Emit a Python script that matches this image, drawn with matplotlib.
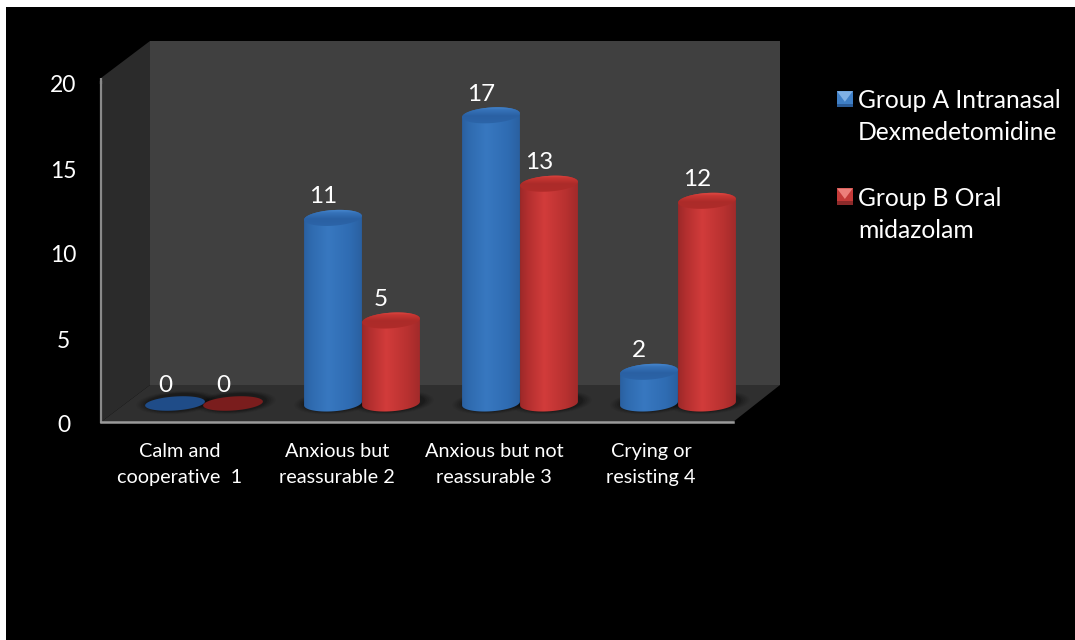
import numpy as np
import matplotlib
matplotlib.use("Agg")
import matplotlib.pyplot as plt
from matplotlib.patches import Polygon, Rectangle, PathPatch, Patch
from matplotlib.path import Path
from matplotlib.transforms import IdentityTransform, Affine2D
from matplotlib.legend_handler import HandlerBase

categories = ["Calm and\ncooperative  1", "Anxious but\nreassurable 2",
              "Anxious but not\nreassurable 3", "Crying or\nresisting 4"]
group_a = [0, 11, 17, 2]
group_b = [0, 5, 13, 12]
name_a = "Group A Intranasal\nDexmedetomidine"
name_b = "Group B Oral\nmidazolam"
y_ticks = [0, 5, 10, 15, 20]

W, H = 1075, 640
plt.rcParams['font.family'] = ['Lato', 'DejaVu Sans']
fig = plt.figure(figsize=(W / 100, H / 100), dpi=100, facecolor='white')
ID = IdentityTransform()

def px(pts):
    return [(x, H - y) for x, y in pts]

# Main drawing axes: whole figure; bars live in the mid-depth plane of the box
Y0, YS, X0, XS = 406.0, 17.1, 204.0, 158.0
ax = fig.add_axes([0, 0, 1, 1])
ax.set_xlim(-X0 / XS, (W - X0) / XS)
ax.set_ylim((Y0 - H) / YS, Y0 / YS)
ax.set_autoscale_on(False)
ax.axis('off')

# Background and 3-D box
ax.add_patch(Polygon(px([(6, 7), (W, 7), (W, H), (6, H)]), transform=ID, fc='black', ec='none', zorder=0))
ax.add_patch(Polygon(px([(150, 41), (780, 41), (780, 385), (150, 385)]), transform=ID, fc='#404040', ec='none', zorder=1))
ax.add_patch(Polygon(px([(101, 78), (150, 41), (150, 385), (101, 422)]), transform=ID, fc='#2b2b2b', ec='none', zorder=1))
ax.add_patch(Polygon(px([(101, 422), (733, 422), (780, 385), (150, 385)]), transform=ID, fc='#2f2f2f', ec='none', zorder=1))
ax.plot(*zip(*px([(101, 78), (101, 84)])), transform=ID, color='#8a8a8a', lw=1.6, zorder=2, solid_capstyle='butt')


def hex_rgb(c):
    return np.array(matplotlib.colors.to_rgb(c))


def ramp(stops, n=120):
    xs = np.linspace(0, 1, n)
    pos = [s[0] for s in stops]
    cols = np.array([hex_rgb(s[1]) for s in stops])
    return np.stack([np.interp(xs, pos, cols[:, i]) for i in range(3)], axis=1)


def ellipse_pts(cx, cy, rx, ry, a0, a1, tilt=4.0, n=60):
    t = np.radians(np.linspace(a0, a1, n))
    ex, ey = rx * np.cos(t), ry * np.sin(t)
    r = np.radians(tilt)
    return np.column_stack([cx + ex * np.cos(r) - ey * np.sin(r), cy + ex * np.sin(r) + ey * np.cos(r)])


def clipped_image(rgb, extent, verts, z):
    path = Path(np.vstack([verts, verts[:1]]))
    patch = PathPatch(path, transform=ID, fc='none', ec='none')
    ax.add_patch(patch)
    im = ax.imshow(rgb, extent=extent, transform=ID, aspect='auto', zorder=z, interpolation='bilinear')
    im.set_clip_path(patch)
    return im


RX, RY = 29.0, 7.8
BLUE = dict(body=[(0, '#2a5f9f'), (0.14, '#2f6bb0'), (0.42, '#3878c0'), (0.78, '#2f6cb3'), (1, '#2a5f9f')],
            top=[(0, '#2c65a9'), (0.45, '#2a60a3'), (0.8, '#3673ba'), (0.93, '#4585cc'), (1, '#3a78bf')],
            flat='#1f4c88', legend=('#3f7fc6', '#7fb0e4', '#2b5c98'))
RED = dict(body=[(0, '#9a2828'), (0.15, '#b32f2f'), (0.42, '#d23c3b'), (0.78, '#b83130'), (1, '#a02a2a')],
           top=[(0, '#b02c2a'), (0.45, '#ab2b29'), (0.8, '#c93733'), (0.93, '#dc4843'), (1, '#c7322f')],
           flat='#7a1d1d', legend=('#c43a38', '#ec7f7a', '#8c2a2a'))
BASE_LIFT = 2.5


def cylinder(x, v, st, z):
    cx, ty = ax.transData.transform((x, v))
    _, by = ax.transData.transform((x, 0))
    by += BASE_LIFT
    # soft floor shadow
    for k, al in zip([1.34, 1.26, 1.18, 1.1, 1.04], [0.05, 0.07, 0.09, 0.11, 0.13]):
        ax.add_patch(Polygon(ellipse_pts(cx + 2, by + 1, RX * k + 2, RY * k + 1, 0, 360), transform=ID,
                             fc='black', alpha=al, ec='none', zorder=2))
    if v == 0:
        ax.add_patch(Polygon(ellipse_pts(cx, by, RX + 1, RY - 0.8, 0, 360), transform=ID,
                             fc=st['flat'], ec='none', zorder=z))
        return
    body = np.vstack([ellipse_pts(cx, ty, RX, RY, 0, 180), ellipse_pts(cx, by, RX, RY, 180, 360)])
    rgb = ramp(st['body'])[None, :, :]
    clipped_image(rgb, [cx - RX - 1, cx + RX + 1, by - RY - 1, ty + RY + 1], body, z)
    top = ellipse_pts(cx, ty, RX, RY, 0, 360)
    rgb = ramp(st['top'])[::-1][:, None, :]
    clipped_image(rgb, [cx - RX - 1, cx + RX + 1, ty - RY - 1, ty + RY + 1], top, z + 0.1)


BAR = 29.0 / XS
for i in range(len(categories)):
    cylinder(i - BAR, group_a[i], BLUE, 4)
    cylinder(i + BAR, group_b[i], RED, 5)
    for x, v in ((i - BAR, group_a[i]), (i + BAR, group_b[i])):
        ax.annotate(str(v), (x, v), xytext=(-10 * 0.72, 21 * 0.72), textcoords='offset points',
                    ha='center', va='center', color='white', fontsize=17.5, zorder=8)

ax.set_xlim(-X0 / XS, (W - X0) / XS)
ax.set_ylim((Y0 - H) / YS, Y0 / YS)

# Front axis with real ticks
a2 = fig.add_axes([101 / W, (H - 422) / H, (733 - 101) / W, (422 - 82) / H], facecolor='none')
a2.set_xlim((101 - 180) / 157, (733 - 180) / 157)
a2.set_ylim(0, 20)
a2.set_yticks(y_ticks)
a2.set_xticks(range(len(categories)))
a2.set_xticklabels(categories, fontsize=14.3, color='white', linespacing=1.62)
a2.tick_params(axis='both', length=0, colors='white')
a2.tick_params(axis='y', labelsize=16.5, pad=27)
a2.tick_params(axis='x', pad=15)
for lab in a2.get_yticklabels():
    lab.set_ha('center')
    lab.set_transform(lab.get_transform() + Affine2D().translate(0, -2))
for s in ('top', 'right'):
    a2.spines[s].set_visible(False)
a2.spines['left'].set_color('#8a8a8a')
a2.spines['left'].set_linewidth(1.6)
a2.spines['bottom'].set_color('#9a9a9a')
a2.spines['bottom'].set_linewidth(1.8)


class CubeHandler(HandlerBase):
    def __init__(self, cols, shift, **kw):
        super().__init__(**kw)
        self.cols, self.shift = cols, shift

    def create_artists(self, legend, orig, xd, yd, w, h, fs, trans):
        x0, y0 = -xd, -yd + self.shift
        mid, light, dark = self.cols
        sq = Rectangle((x0, y0), w, h, fc=mid, ec='none', transform=trans)
        tri = Polygon([(x0, y0 + h), (x0 + w, y0 + h), (x0 + w / 2, y0 + h * 0.35)], fc=light, ec='none', transform=trans)
        low = Rectangle((x0, y0), w, h * 0.2, fc=dark, ec='none', transform=trans)
        return [sq, tri, low]


pa, pb = Patch(label=name_a), Patch(label=name_b)
shift = 18.5 * 0.72
leg = a2.legend(handles=[pa, pb], loc='upper left', bbox_to_anchor=(837 / W, (H - 89.5) / H),
                bbox_transform=fig.transFigure, frameon=False, fontsize=17.7, labelcolor='white',
                handlelength=0.64, handleheight=0.64, handletextpad=0.22, labelspacing=1.72,
                borderpad=0, borderaxespad=0,
                handler_map={pa: CubeHandler(BLUE['legend'], shift), pb: CubeHandler(RED['legend'], shift)})
for t in leg.get_texts():
    t.set_linespacing(1.47)

fig.savefig('out.png', dpi=100, facecolor='white')
